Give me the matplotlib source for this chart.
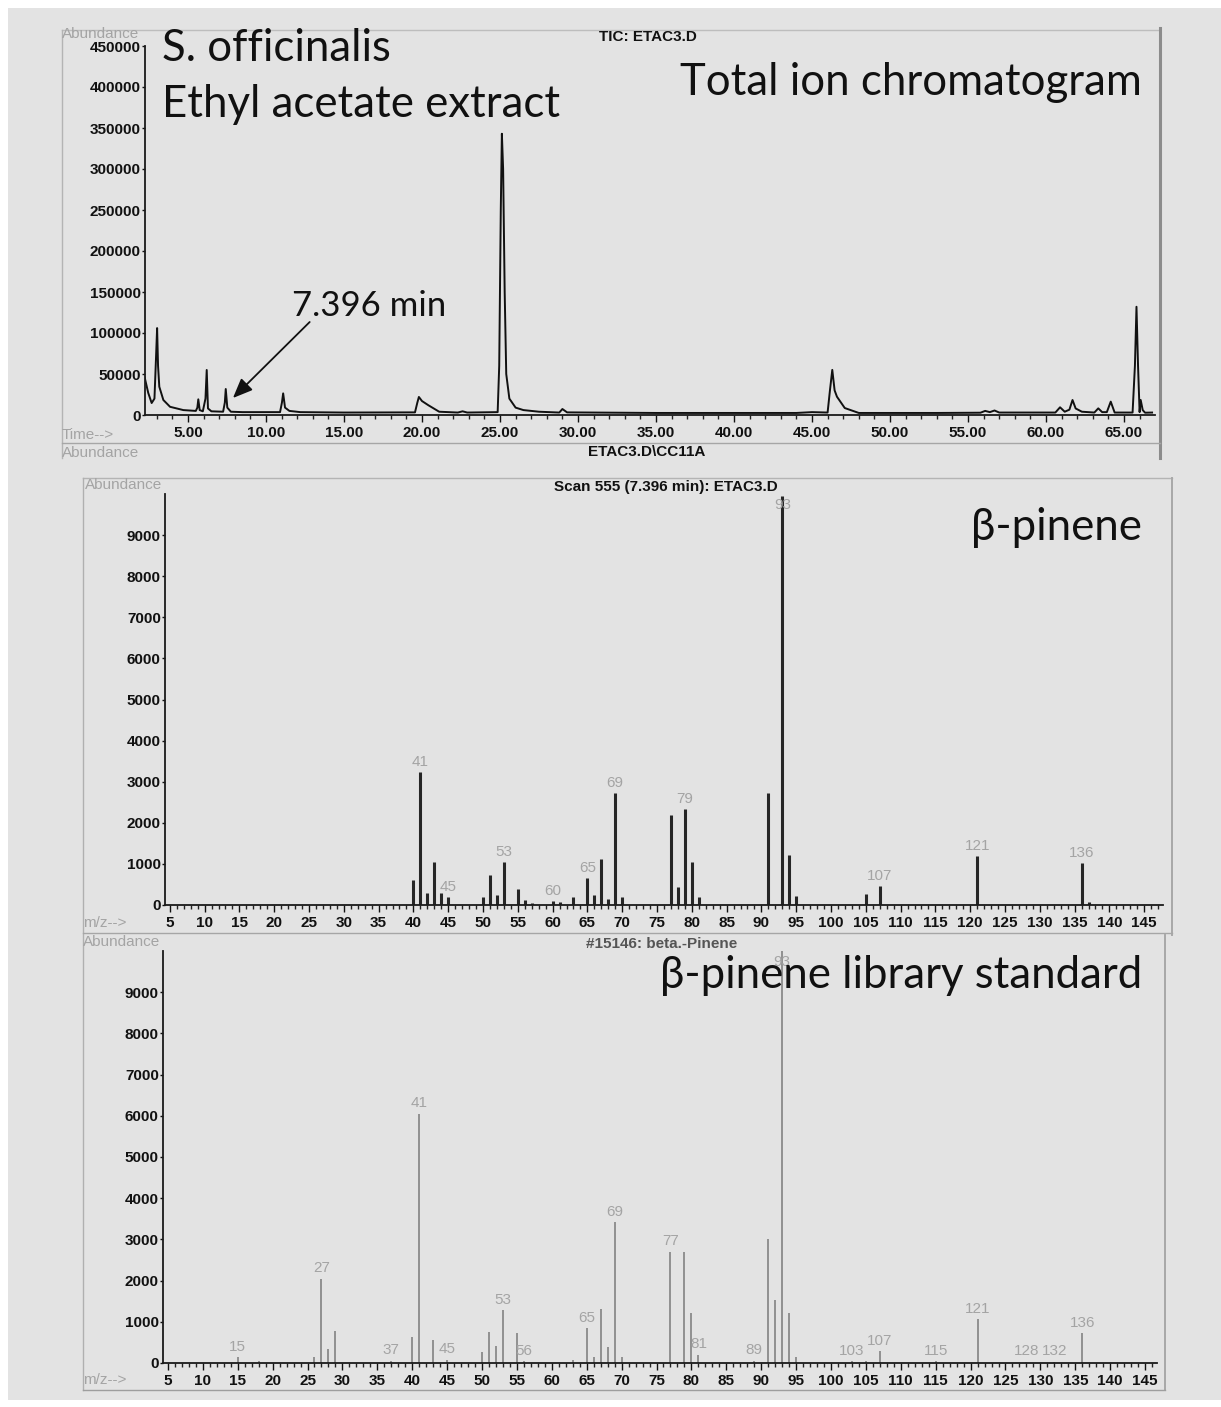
import matplotlib
matplotlib.use("Agg")
import matplotlib.pyplot as plt
from matplotlib.lines import Line2D
from matplotlib.patches import Rectangle
from matplotlib.ticker import FixedLocator, MultipleLocator, FuncFormatter

# ---------------------------------------------------------------- data
# Total ion chromatogram: retention time (min) and abundance
tic_time = [2.22, 2.45, 2.67, 2.85, 2.95, 3.02, 3.08, 3.16, 3.42, 3.85, 4.7, 5.5,
            5.6, 5.66, 5.75, 5.95, 6.12, 6.2, 6.28, 6.5, 7.25, 7.36, 7.42, 7.52,
            7.75, 8.5, 10.9, 11.02, 11.1, 11.22, 11.5, 12.2, 15.0, 19.55, 19.7,
            19.8, 20.0, 20.4, 21.1, 22.3, 22.6, 22.9, 24.85, 24.95, 25.05, 25.12,
            25.2, 25.3, 25.4, 25.6, 26.0, 26.5, 27.5, 28.8, 29.0, 29.3, 35.0,
            44.0, 45.0, 46.0, 46.15, 46.3, 46.45, 46.6, 47.1, 48.0, 53.0, 55.8,
            56.1, 56.4, 56.7, 57.0, 60.6, 60.9, 61.2, 61.5, 61.7, 61.9, 62.3,
            63.1, 63.35, 63.6, 63.9, 64.15, 64.4, 65.55, 65.7, 65.8, 65.9, 66.0,
            66.07, 66.2, 66.35, 66.8]
tic_abundance = [46000, 27000, 14600, 20000, 70000, 106000, 60000, 34500, 18300,
                 10000, 6000, 5000, 9000, 19100, 6000, 4500, 20000, 54900, 8000,
                 4500, 4000, 15000, 31700, 9000, 4000, 3500, 3500, 15000, 26400,
                 9000, 5000, 3500, 3000, 3200, 15000, 22000, 17000, 12000, 4000,
                 3000, 4500, 3000, 3500, 60000, 250000, 343000, 300000, 150000,
                 50000, 20000, 9000, 6000, 4000, 3000, 7300, 3200, 2500, 2500,
                 3500, 3000, 30000, 55000, 30000, 22300, 8500, 2500, 2500, 2800,
                 5000, 3500, 5500, 3000, 3000, 9400, 4000, 6500, 18300, 8000,
                 4000, 3000, 8100, 3500, 3500, 16300, 3000, 3000, 60000, 132000,
                 60000, 3500, 18300, 6000, 2800, 3000]
tic_yticks = [0, 50000, 100000, 150000, 200000, 250000, 300000, 350000, 400000, 450000]
tic_xticks = [5, 10, 15, 20, 25, 30, 35, 40, 45, 50, 55, 60, 65]
marked_time = 7.396

# Scan 555 (7.396 min) mass spectrum
scan_mz = [40, 41, 42, 43, 44, 45, 50, 51, 52, 53, 55, 56, 57, 60, 61, 63, 65, 66,
           67, 68, 69, 70, 77, 78, 79, 80, 81, 91, 93, 94, 95, 105, 107, 121, 136, 137]
scan_abundance = [600, 3240, 300, 1050, 300, 200, 200, 730, 250, 1050, 400, 120,
                  50, 100, 80, 200, 650, 250, 1120, 150, 2730, 200, 2190, 440,
                  2340, 1050, 200, 2730, 9950, 1220, 220, 270, 460, 1190, 1020, 80]
scan_labels = [41, 45, 53, 60, 65, 69, 79, 93, 107, 121, 136]

# Library spectrum #15146 beta-pinene
lib_mz = [15, 18, 26, 27, 28, 29, 37, 40, 41, 43, 45, 50, 51, 52, 53, 55, 56, 63,
          65, 66, 67, 68, 69, 70, 77, 79, 80, 81, 89, 91, 92, 93, 94, 95, 103, 105,
          107, 115, 121, 128, 132, 136]
lib_abundance = [150, 50, 150, 2050, 350, 780, 60, 630, 6050, 550, 80, 270, 750,
                 410, 1280, 730, 50, 80, 850, 150, 1300, 400, 3420, 150, 2700,
                 2700, 1220, 200, 60, 3000, 1530, 9999, 1220, 150, 40, 60, 280,
                 40, 1060, 30, 30, 720]
lib_labels = [15, 27, 37, 41, 45, 53, 56, 65, 69, 77, 81, 89, 93, 103, 107, 115,
              121, 128, 132, 136]

ms_yticks = [0, 1000, 2000, 3000, 4000, 5000, 6000, 7000, 8000, 9000]
ms_xticks = list(range(5, 150, 5))

# ---------------------------------------------------------------- layout
W, H = 1221, 1407
fig = plt.figure(figsize=(W / 100, H / 100), dpi=100)
fig.patch.set_facecolor("white")

BG = "#e3e3e3"
TICK_FONT = dict(family="Liberation Sans", weight="bold", size=11)
GREY_TXT = "#a4a4a4"


def fxy(px, py):
    return px / W, 1 - py / H


def add_axes(left, top, right, bottom):
    ax = fig.add_axes([left / W, 1 - bottom / H, (right - left) / W, (bottom - top) / H])
    ax.set_facecolor("none")
    return ax


def fig_line(x0, y0, x1, y1, color="#a8a8a8", lw=1.0):
    (a, b), (c, d) = fxy(x0, y0), fxy(x1, y1)
    fig.add_artist(Line2D([a, c], [b, d], color=color, lw=lw, transform=fig.transFigure))


def fig_text(px, py, s, **kw):
    x, y = fxy(px, py)
    fig.text(x, y, s, **kw)


# scanned-page background
fig.add_artist(Rectangle(fxy(8, 1400), (W - 8) / W, 1392 / H, transform=fig.transFigure,
                         facecolor=BG, edgecolor="none", zorder=-10))


def style_axes(ax):
    for side in ("top", "right"):
        ax.spines[side].set_visible(False)
    for side in ("left", "bottom"):
        ax.spines[side].set_color("#1a1a1a")
        ax.spines[side].set_linewidth(1.3)
    ax.tick_params(axis="y", which="both", direction="out", length=2, width=1, pad=1,
                   colors="#111111")
    ax.tick_params(axis="x", which="major", direction="out", length=5, width=1, pad=3,
                   colors="#111111")
    ax.tick_params(axis="x", which="minor", direction="out", length=3, width=1,
                   colors="#222222")
    for lab in ax.get_xticklabels() + ax.get_yticklabels():
        lab.set_fontproperties(matplotlib.font_manager.FontProperties(**TICK_FONT))


# ---------------------------------------------------------------- TIC panel
ax1 = add_axes(145, 46, 1155, 415)
ax1.plot(tic_time, tic_abundance, color="#111111", lw=1.4)
ax1.set_xlim((145 - 110) / 15.6, (1155 - 110) / 15.6)
ax1.set_ylim(0, 450000)
ax1.yaxis.set_major_locator(FixedLocator(tic_yticks))
ax1.yaxis.set_major_formatter(FuncFormatter(lambda v, p: f"{int(v)}"))
ax1.xaxis.set_major_locator(FixedLocator(tic_xticks))
ax1.xaxis.set_minor_locator(MultipleLocator(1))
ax1.xaxis.set_major_formatter(FuncFormatter(lambda v, p: f"{v:.2f}"))
style_axes(ax1)

ax1.annotate("", xy=(7.88, 20700), xytext=(12.8, 113400),
             arrowprops=dict(arrowstyle="-|>,head_length=1.2,head_width=0.5",
                             color="#111111", lw=1.3, shrinkA=0, shrinkB=0))

# ---------------------------------------------------------------- sample spectrum
ax2 = add_axes(165, 494, 1163, 905)
ax2.vlines(scan_mz, 0, scan_abundance, colors="#262626", lw=2.2)
ax2.set_xlim((165 - 135) / 6.96, (1163 - 135) / 6.96)
ax2.set_ylim(0, 10000)
for m in scan_labels:
    a = scan_abundance[scan_mz.index(m)]
    ax2.text(m, min(a + 250, 9730), str(m), ha="center", va="center",
             color=GREY_TXT, fontsize=11, family="Liberation Sans")

# ---------------------------------------------------------------- library spectrum
ax3 = add_axes(163, 951, 1157, 1363)
ax3.vlines(lib_mz, 0, lib_abundance, colors="#8a8a8a", lw=1.3)
ax3.set_xlim((163 - 133) / 6.98, (1157 - 133) / 6.98)
ax3.set_ylim(0, 10000)
for m in lib_labels:
    a = lib_abundance[lib_mz.index(m)]
    ax3.text(m, min(a + 250, 9730), str(m), ha="center", va="center",
             color=GREY_TXT, fontsize=11, family="Liberation Sans")

for ax in (ax2, ax3):
    ax.yaxis.set_major_locator(FixedLocator(ms_yticks))
    ax.xaxis.set_major_locator(FixedLocator(ms_xticks))
    ax.xaxis.set_minor_locator(MultipleLocator(1))
    style_axes(ax)

# ---------------------------------------------------------------- frames
fig_line(62, 30, 1160, 30, "#bdbdbd")
fig_line(62, 30, 62, 458, "#b4b4b4")
fig_line(1160, 28, 1160, 458, "#8c8c8c", lw=2.2)
fig_line(62, 443, 1160, 443, "#a6a6a6")
fig_line(83, 478, 1172, 478, "#b4b4b4")
fig_line(83, 478, 83, 1390, "#b0b0b0")
fig_line(1172, 478, 1172, 935, "#a8a8a8", lw=1.4)
fig_line(83, 933, 1172, 933, "#a6a6a6")
fig_line(1165, 935, 1165, 1390, "#a8a8a8", lw=1.4)
fig_line(83, 1390, 1165, 1390, "#9e9e9e")

# ---------------------------------------------------------------- instrument labels
small_grey = dict(color=GREY_TXT, fontsize=11, family="Liberation Sans", va="center")
small_bold = dict(color="#111111", fontsize=11, family="Liberation Sans",
                  weight="bold", va="center", ha="center")
fig_text(62, 34, "Abundance", ha="left", **small_grey)
fig_text(62, 435, "Time-->", ha="left", **small_grey)
fig_text(62, 453, "Abundance", ha="left", **small_grey)
fig_text(85, 485, "Abundance", ha="left", **small_grey)
fig_text(83, 923, "m/z-->", ha="left", **small_grey)
fig_text(83, 942, "Abundance", ha="left", **small_grey)
fig_text(83, 1380, "m/z-->", ha="left", **small_grey)
fig_text(648, 37, "TIC: ETAC3.D", **small_bold)
fig_text(647, 452, "ETAC3.D\\CC11A", **small_bold)
fig_text(666, 487, f"Scan 555 ({marked_time} min): ETAC3.D", **small_bold)
fig_text(662, 944, "#15146: beta.-Pinene", **dict(small_bold, color="#555555"))

# ---------------------------------------------------------------- headline texts
big = dict(family="Lato", fontsize=31.5, color="#111111", va="baseline")
fig_text(162, 61, "S. officinalis", ha="left", **big)
fig_text(162, 117, "Ethyl acetate extract", ha="left", **big)
fig_text(1142, 95, "Total ion chromatogram", ha="right", **big)
fig_text(292, 316, f"{marked_time} min", ha="left", **dict(big, fontsize=25))
fig_text(1142, 540, "\u03b2-pinene", ha="right", **big)
fig_text(1142, 988, "\u03b2-pinene library standard", ha="right", **big)

fig.savefig("out.png", dpi=100, facecolor=fig.get_facecolor())
